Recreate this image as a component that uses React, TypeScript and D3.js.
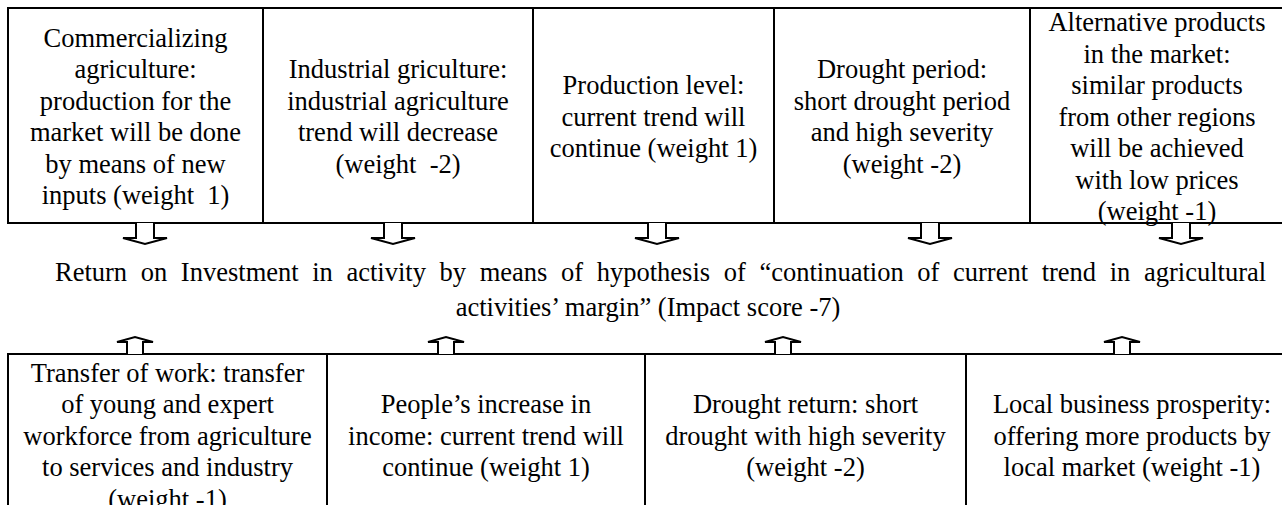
import React from "react";
import * as d3 from "d3";

const W = 1282;
const H = 505;

const topBoxes: string[][] = [
  ["Commercializing", "agriculture:", "production for the", "market will be done", "by means of new", "inputs (weight  1)"],
  ["Industrial griculture:", "industrial agriculture", "trend will decrease", "(weight  -2)"],
  ["Production level:", "current trend will", "continue (weight 1)"],
  ["Drought period:", "short drought period", "and high severity", "(weight -2)"],
  ["Alternative products", "in the market:", "similar products", "from other regions", "will be achieved", "with low prices", "(weight -1)"],
];
const topEdges = [8, 263, 533, 774, 1030, 1284];
const downArrowX = [145, 393, 657, 930, 1181];

const centerLines = [
  "Return on Investment in activity by means of hypothesis of \u201ccontinuation of current trend in agricultural",
  "activities\u2019 margin\u201d (Impact score -7)",
];

const bottomBoxes: string[][] = [
  ["Transfer of work: transfer", "of young and expert", "workforce from agriculture", "to services and industry", "(weight -1)"],
  ["People\u2019s increase in", "income: current trend will", "continue (weight 1)"],
  ["Drought return: short", "drought with high severity", "(weight -2)"],
  ["Local business prosperity:", "offering more products by", "local market (weight -1)"],
];
const bottomEdges = [8, 327, 645, 966, 1298];
const upArrowX = [135, 446, 783, 1122];

const FONT = "Liberation Serif";
const FS = 26.5;
const LH = 31.5;

export default function App() {
  const topY0 = 8, topY1 = 223;
  const botY0 = 354, botY1 = 530;
  const topMid = 117;
  const botMid = 436;
  const lineShift = FS * 0.33;

  const downArrow = (cx: number) => {
    const p = d3.path();
    const y0 = topY1;
    p.moveTo(cx - 9, y0);
    p.lineTo(cx - 9, y0 + 15);
    p.lineTo(cx - 22, y0 + 15);
    p.lineTo(cx, y0 + 21);
    p.lineTo(cx + 22, y0 + 15);
    p.lineTo(cx + 9, y0 + 15);
    p.lineTo(cx + 9, y0);
    return p.toString();
  };
  const upArrow = (cx: number) => {
    const p = d3.path();
    const y0 = botY0;
    p.moveTo(cx - 8, y0);
    p.lineTo(cx - 8, y0 - 12);
    p.lineTo(cx - 18, y0 - 12);
    p.lineTo(cx, y0 - 17);
    p.lineTo(cx + 18, y0 - 12);
    p.lineTo(cx + 8, y0 - 12);
    p.lineTo(cx + 8, y0);
    return p.toString();
  };

  const textBlock = (lines: string[], cx: number, cy: number, key: string) =>
    lines.map((t, i) => (
      <text
        key={key + i}
        x={cx}
        y={cy + (i - (lines.length - 1) / 2) * LH + lineShift}
        textAnchor="middle"
        fontFamily={FONT}
        fontSize={FS}
        fill="#000"
        style={{ whiteSpace: "pre" }}
      >
        {t}
      </text>
    ));

  return (
    <svg width={W} height={H} style={{ position: "absolute", left: 0, top: 0, background: "#fff" }}>
      <rect x={0} y={0} width={W} height={H} fill="#fff" />
      {/* top row */}
      <line x1={topEdges[0] - 1} x2={W + 10} y1={topY0} y2={topY0} stroke="#000" strokeWidth={2} />
      <line x1={topEdges[0] - 1} x2={W + 10} y1={topY1} y2={topY1} stroke="#000" strokeWidth={2} />
      {topEdges.slice(0, -1).map((x, i) => (
        <line key={"tv" + i} x1={x} x2={x} y1={topY0} y2={topY1} stroke="#000" strokeWidth={2} />
      ))}
      {topBoxes.map((lines, i) =>
        textBlock(lines, (topEdges[i] + topEdges[i + 1]) / 2, topMid, "t" + i)
      )}
      {downArrowX.map((x, i) => (
        <path key={"da" + i} d={downArrow(x)} fill="#fff" stroke="#000" strokeWidth={2} strokeLinejoin="miter" />
      ))}
      {/* center: first line justified across the width, second line centred */}
      <text x={55} y={272 + lineShift} textAnchor="start" fontFamily={FONT} fontSize={FS} fill="#000" style={{ wordSpacing: "7px" }}>
        {centerLines[0]}
      </text>
      <text x={648} y={307 + lineShift} textAnchor="middle" fontFamily={FONT} fontSize={FS} fill="#000">
        {centerLines[1]}
      </text>
      {/* bottom row */}
      <line x1={bottomEdges[0] - 1} x2={W + 10} y1={botY0} y2={botY0} stroke="#000" strokeWidth={2} />
      {bottomEdges.slice(0, -1).map((x, i) => (
        <line key={"bv" + i} x1={x} x2={x} y1={botY0} y2={botY1} stroke="#000" strokeWidth={2} />
      ))}
      {bottomBoxes.map((lines, i) =>
        textBlock(lines, (bottomEdges[i] + bottomEdges[i + 1]) / 2, botMid, "b" + i)
      )}
      {upArrowX.map((x, i) => (
        <path key={"ua" + i} d={upArrow(x)} fill="#fff" stroke="#000" strokeWidth={2} />
      ))}
    </svg>
  );
}
